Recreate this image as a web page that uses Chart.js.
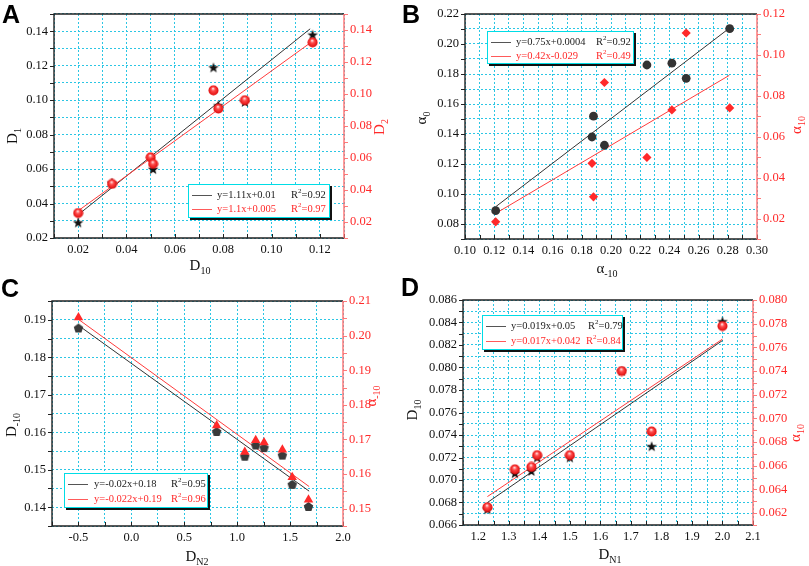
<!DOCTYPE html>
<html>
<head>
<meta charset="utf-8">
<script src="https://cdn.jsdelivr.net/npm/chart.js@4"></script>
<style>
body{margin:0;background:#fff;width:809px;height:566px;position:relative;overflow:hidden}
.panel{position:absolute}
.tag{position:absolute;font:bold 25px "Liberation Sans",Arial,sans-serif;line-height:1;color:#000}
.leg{position:absolute;background:#fff;border:1.5px solid #00dde6;box-shadow:2px 2px 0 #111;font:10.5px "Liberation Serif",serif;box-sizing:border-box}
.leg .row{position:absolute;left:0;right:0;height:14px;line-height:14px;white-space:nowrap}
.leg .ln{position:absolute;left:3px;width:20px;top:7px;border-top:1px solid}
.leg span{position:absolute;top:0}
.leg sup{font-size:7px;vertical-align:top;line-height:7px}
</style>
</head>
<body>
<div class="panel" style="left:0;top:0"><canvas id="cA" width="400" height="283"></canvas></div>
<div class="panel" style="left:400px;top:0"><canvas id="cB" width="409" height="283"></canvas></div>
<div class="panel" style="left:0;top:283px"><canvas id="cC" width="400" height="283"></canvas></div>
<div class="panel" style="left:400px;top:283px"><canvas id="cD" width="409" height="283"></canvas></div>

<div class="tag" style="left:2px;top:2px">A</div>
<div class="tag" style="left:402px;top:2px">B</div>
<div class="tag" style="left:1px;top:276px">C</div>
<div class="tag" style="left:401px;top:275px">D</div>

<div class="leg" style="left:188px;top:184px;width:142px;height:34px">
  <div class="row" style="top:3px;color:#222"><div class="ln" style="border-color:#555"></div><span style="left:28px">y=1.11x+0.01</span><span style="left:102px">R<sup>2</sup>=0.92</span></div>
  <div class="row" style="top:17px;color:#ff2a2a"><div class="ln" style="border-color:#ff5a5a"></div><span style="left:28px">y=1.1x+0.005</span><span style="left:102px">R<sup>2</sup>=0.97</span></div>
</div>
<div class="leg" style="left:487px;top:31px;width:147px;height:33px">
  <div class="row" style="top:3px;color:#222"><div class="ln" style="border-color:#555"></div><span style="left:28px">y=0.75x+0.0004</span><span style="left:108px">R<sup>2</sup>=0.92</span></div>
  <div class="row" style="top:17px;color:#ff2a2a"><div class="ln" style="border-color:#ff5a5a"></div><span style="left:28px">y=0.42x-0.029</span><span style="left:108px">R<sup>2</sup>=0.49</span></div>
</div>
<div class="leg" style="left:64px;top:473px;width:144px;height:35px">
  <div class="row" style="top:3px;color:#222"><div class="ln" style="border-color:#555"></div><span style="left:29px">y=-0.02x+0.18</span><span style="left:106px">R<sup>2</sup>=0.95</span></div>
  <div class="row" style="top:18px;color:#ff2a2a"><div class="ln" style="border-color:#ff5a5a"></div><span style="left:29px">y=-0.022x+0.19</span><span style="left:106px">R<sup>2</sup>=0.96</span></div>
</div>
<div class="leg" style="left:482px;top:315px;width:141px;height:35px">
  <div class="row" style="top:3px;color:#222"><div class="ln" style="border-color:#555"></div><span style="left:28px">y=0.019x+0.05</span><span style="left:105px">R<sup>2</sup>=0.79</span></div>
  <div class="row" style="top:18px;color:#ff2a2a"><div class="ln" style="border-color:#ff5a5a"></div><span style="left:28px">y=0.017x+0.042</span><span style="left:103px">R<sup>2</sup>=0.84</span></div>
</div>

<script>
// ---- panel A: D1 / D2 vs D10 ----
const aD10Black = [0.020, 0.034, 0.051, 0.076, 0.078, 0.089, 0.117];
const aD1 = [0.029, 0.052, 0.060, 0.119, 0.097, 0.099, 0.138];
const aD10Red = [0.020, 0.034, 0.050, 0.051, 0.076, 0.078, 0.089, 0.117];
const aD2 = [0.0256, 0.0438, 0.0604, 0.0563, 0.1023, 0.0909, 0.0961, 0.1323];
const aFitX1 = [0.020, 0.116], aFitY1 = [0.0335, 0.1414];
const aFitX2 = [0.020, 0.117], aFitY2 = [0.027, 0.133];
const aXTicks = [0.02, 0.04, 0.06, 0.08, 0.10, 0.12];
const aYTicks = [0.02, 0.04, 0.06, 0.08, 0.10, 0.12, 0.14];
const aY1Ticks = [0.02, 0.04, 0.06, 0.08, 0.10, 0.12, 0.14];

// ---- panel B: alpha0 / alpha10 vs alpha-10 ----
const bAm10 = [0.121, 0.187, 0.188, 0.1955, 0.2246, 0.2417, 0.2515, 0.2813];
const bA0 = [0.0889, 0.138, 0.1519, 0.1325, 0.186, 0.1872, 0.1771, 0.2102];
const bA10 = [0.0184, 0.047, 0.0306, 0.0865, 0.0499, 0.0731, 0.1107, 0.0741];
const bFitX = [0.121, 0.281], bFitY1 = [0.0915, 0.2105], bFitY2 = [0.0225, 0.090];
const bXTicks = [0.10, 0.12, 0.14, 0.16, 0.18, 0.20, 0.22, 0.24, 0.26, 0.28, 0.30];
const bYTicks = [0.08, 0.10, 0.12, 0.14, 0.16, 0.18, 0.20, 0.22];
const bY1Ticks = [0.02, 0.04, 0.06, 0.08, 0.10, 0.12];

// ---- panel C: D-10 / alpha-10 vs DN2 ----
const cDN2 = [-0.5, 0.806, 1.072, 1.175, 1.254, 1.427, 1.52, 1.674];
const cDm10 = [0.1878, 0.1602, 0.1536, 0.1566, 0.1559, 0.1539, 0.1461, 0.1402];
const cAm10 = [0.2052, 0.174, 0.1664, 0.1698, 0.1691, 0.167, 0.1591, 0.1526];
const cFitX = [-0.5, 1.68], cFitY1 = [0.1885, 0.1443], cFitY2 = [0.2047, 0.1564];
const cXTicks = [-0.5, 0.0, 0.5, 1.0, 1.5, 2.0];
const cYTicks = [0.14, 0.15, 0.16, 0.17, 0.18, 0.19];
const cY1Ticks = [0.15, 0.16, 0.17, 0.18, 0.19, 0.20, 0.21];

// ---- panel D: D10 / alpha10 vs DN1 ----
const dDN1 = [1.23, 1.32, 1.374, 1.393, 1.50, 1.67, 1.768, 2.0];
const dD10 = [0.0674, 0.0706, 0.0708, 0.0720, 0.0720, 0.0797, 0.0730, 0.0841];
const dA10 = [0.0625, 0.0657, 0.0659, 0.0669, 0.0669, 0.0740, 0.0689, 0.0778];
const dFitX = [1.23, 2.0], dFitY1 = [0.068, 0.0824], dFitY2 = [0.0634, 0.0767];
const dXTicks = [1.2, 1.3, 1.4, 1.5, 1.6, 1.7, 1.8, 1.9, 2.0, 2.1];
const dYTicks = [0.066, 0.068, 0.070, 0.072, 0.074, 0.076, 0.078, 0.080, 0.082, 0.084, 0.086];
const dY1Ticks = [0.062, 0.064, 0.066, 0.068, 0.070, 0.072, 0.074, 0.076, 0.078, 0.080];

const RED = '#ff2a2a';
const GRID = '#2cc6e4';
const SERIF = '"Liberation Serif", "Times New Roman", serif';

function pts(xs, ys) { return xs.map((x, i) => ({ x: x, y: ys[i] })); }

// marker sprites
function sprite(size, draw) {
  const c = document.createElement('canvas');
  c.width = size; c.height = size;
  draw(c.getContext('2d'), size / 2);
  return c;
}
const starImg = sprite(12, (g, m) => {
  g.beginPath();
  for (let i = 0; i < 10; i++) {
    const r = i % 2 ? 2.3 : 5.6, a = -Math.PI / 2 + i * Math.PI / 5;
    g.lineTo(m + r * Math.cos(a), m + 0.5 + r * Math.sin(a));
  }
  g.closePath(); g.fillStyle = '#111'; g.fill();
});
const ballImg = sprite(11, (g, m) => {
  const grd = g.createRadialGradient(m - 0.5, m - 2, 0.3, m, m, 5);
  grd.addColorStop(0, '#ffe8e8');
  grd.addColorStop(0.35, '#ff4d4d');
  grd.addColorStop(1, '#e00808');
  g.beginPath(); g.arc(m, m, 5, 0, Math.PI * 2); g.fillStyle = grd; g.fill();
});
const pentImg = sprite(11, (g, m) => {
  g.beginPath();
  for (let i = 0; i < 5; i++) {
    const a = -Math.PI / 2 + i * 2 * Math.PI / 5;
    g.lineTo(m + 5 * Math.cos(a), m + 0.5 + 5 * Math.sin(a));
  }
  g.closePath(); g.fillStyle = '#3a3a3a'; g.fill();
});

// grid positions: labelled ticks plus the half steps between them
function gridVals(min, max, labels) {
  const out = [];
  const h = (labels[1] - labels[0]) / 2;
  if (labels[0] - h >= min - 1e-9) out.push(labels[0] - h);
  labels.forEach((v, i) => {
    out.push(v);
    const nx = i < labels.length - 1 ? (v + labels[i + 1]) / 2 : v + h;
    if (nx <= max + 1e-9) out.push(nx);
  });
  return out;
}

function axis(pos, min, max, labels, dec, size, color, showGrid) {
  const horiz = pos === 'bottom';
  return {
    type: 'linear', position: pos, min: min, max: max,
    afterBuildTicks: s => { s.ticks = gridVals(min, max, labels).map(v => ({ value: v })); },
    afterFit: s => { if (horiz) s.height = size; else s.width = size; },
    ticks: {
      autoSkip: false, maxRotation: 0, padding: horiz ? 4 : 6, color: color,
      font: { family: SERIF, size: 12.5 },
      callback: v => labels.some(l => Math.abs(l - v) < 1e-9) ? v.toFixed(dec) : ''
    },
    grid: { display: showGrid, color: GRID, lineWidth: 1, drawTicks: false },
    border: { display: false, dash: [2, 2] }
  };
}

function subText(g, t) {
  g.save();
  g.translate(t.x, t.y);
  if (t.rot) g.rotate(-Math.PI / 2);
  g.fillStyle = t.color || '#111';
  g.textBaseline = 'middle';
  g.font = '15px ' + SERIF;
  const wb = g.measureText(t.base).width;
  g.font = '10px ' + SERIF;
  const ws = g.measureText(t.sub).width;
  const x0 = -(wb + ws) / 2;
  g.font = '15px ' + SERIF;
  g.fillText(t.base, x0, 0);
  g.font = '10px ' + SERIF;
  g.fillText(t.sub, x0 + wb, 5);
  g.restore();
}

function decor(titles) {
  return {
    id: 'decor',
    afterDraw(chart) {
      const g = chart.ctx, a = chart.chartArea, sc = chart.scales;
      g.save();
      g.lineWidth = 1;
      g.strokeStyle = '#222';
      // bottom ticks point inward, side ticks point outward
      sc.x.ticks.forEach(t => {
        const p = Math.round(sc.x.getPixelForValue(t.value)) + 0.5;
        g.beginPath(); g.moveTo(p, a.bottom); g.lineTo(p, a.bottom - 4); g.stroke();
      });
      sc.y.ticks.forEach(t => {
        const p = Math.round(sc.y.getPixelForValue(t.value)) + 0.5;
        g.beginPath(); g.moveTo(a.left, p); g.lineTo(a.left - 4, p); g.stroke();
      });
      g.strokeStyle = '#ff7a7a';
      sc.y1.ticks.forEach(t => {
        const p = Math.round(sc.y1.getPixelForValue(t.value)) + 0.5;
        g.beginPath(); g.moveTo(a.right, p); g.lineTo(a.right + 4, p); g.stroke();
      });
      g.lineWidth = 1.4;
      g.strokeStyle = '#222';
      g.beginPath();
      g.moveTo(a.right, a.top); g.lineTo(a.left, a.top); g.lineTo(a.left, a.bottom); g.lineTo(a.right, a.bottom);
      g.stroke();
      g.strokeStyle = '#ff7070';
      g.beginPath(); g.moveTo(a.right, a.top); g.lineTo(a.right, a.bottom); g.stroke();
      g.restore();
      titles.forEach(t => subText(g, t));
    }
  };
}

function panel(id, cfg) {
  new Chart(document.getElementById(id), {
    type: 'scatter',
    data: {
      datasets: [
        { data: cfg.redPts, yAxisID: 'y1', order: 0, pointStyle: cfg.redStyle, pointRadius: cfg.redR,
          backgroundColor: RED, borderColor: RED, borderWidth: 0 },
        { data: cfg.blackPts, yAxisID: 'y', order: 1, pointStyle: cfg.blackStyle, pointRadius: cfg.blackR,
          backgroundColor: '#333', borderColor: '#333', borderWidth: 0 },
        { data: cfg.redFit, yAxisID: 'y1', order: 2, showLine: true, pointRadius: 0,
          borderColor: '#ff3b3b', borderWidth: 1, fill: false },
        { data: cfg.blackFit, yAxisID: 'y', order: 3, showLine: true, pointRadius: 0,
          borderColor: '#333', borderWidth: 1, fill: false }
      ]
    },
    options: {
      responsive: false, animation: false, events: [],
      layout: { padding: { top: cfg.top, left: 0, right: 0, bottom: 0 } },
      plugins: { legend: { display: false }, tooltip: { enabled: false } },
      scales: { x: cfg.x, y: cfg.y, y1: cfg.y1 }
    },
    plugins: [decor(cfg.titles)]
  });
}

panel('cA', {
  top: 14,
  blackPts: pts(aD10Black, aD1), redPts: pts(aD10Red, aD2),
  blackFit: pts(aFitX1, aFitY1), redFit: pts(aFitX2, aFitY2),
  blackStyle: starImg, blackR: 5, redStyle: ballImg, redR: 5,
  x: axis('bottom', 0.01, 0.13, aXTicks, 2, 45, '#111', true),
  y: axis('left', 0.02, 0.15, aYTicks, 2, 54, '#111', true),
  y1: axis('right', 0.01, 0.15, aY1Ticks, 2, 56, RED, false),
  titles: [
    { x: 13, y: 136, base: 'D', sub: '1', rot: true },
    { x: 380, y: 127, base: 'D', sub: '2', rot: true, color: RED },
    { x: 200, y: 266, base: 'D', sub: '10' }
  ]
});

panel('cB', {
  top: 14,
  blackPts: pts(bAm10, bA0), redPts: pts(bAm10, bA10),
  blackFit: pts(bFitX, bFitY1), redFit: pts(bFitX, bFitY2),
  blackStyle: 'circle', blackR: 4.4, redStyle: 'rectRot', redR: 4.6,
  x: axis('bottom', 0.10, 0.30, bXTicks, 2, 44, '#111', true),
  y: axis('left', 0.07, 0.22, bYTicks, 2, 65, '#111', true),
  y1: axis('right', 0.01, 0.12, bY1Ticks, 2, 52, RED, false),
  titles: [
    { x: 22, y: 118, base: '\u03b1', sub: '0', rot: true },
    { x: 397, y: 125, base: '\u03b1', sub: '10', rot: true, color: RED },
    { x: 207, y: 269, base: '\u03b1', sub: '-10' }
  ]
});

panel('cC', {
  top: 18,
  blackPts: pts(cDN2, cDm10), redPts: pts(cDN2, cAm10),
  blackFit: pts(cFitX, cFitY1), redFit: pts(cFitX, cFitY2),
  blackStyle: pentImg, blackR: 5, redStyle: 'triangle', redR: 5.5,
  x: axis('bottom', -0.75, 2.0, cXTicks, 1, 40, '#111', true),
  y: axis('left', 0.135, 0.195, cYTicks, 2, 52, '#111', true),
  y1: axis('right', 0.145, 0.21, cY1Ticks, 2, 57, RED, false),
  titles: [
    { x: 12, y: 142, base: 'D', sub: '-10', rot: true },
    { x: 372, y: 113, base: '\u03b1', sub: '-10', rot: true, color: RED },
    { x: 197, y: 274, base: 'D', sub: 'N2' }
  ]
});

panel('cD', {
  top: 17,
  blackPts: pts(dDN1, dD10), redPts: pts(dDN1, dA10),
  blackFit: pts(dFitX, dFitY1), redFit: pts(dFitX, dFitY2),
  blackStyle: starImg, blackR: 5, redStyle: ballImg, redR: 5,
  x: axis('bottom', 1.15, 2.1, dXTicks, 1, 41, '#111', true),
  y: axis('left', 0.066, 0.086, dYTicks, 3, 63, '#111', true),
  y1: axis('right', 0.061, 0.080, dY1Ticks, 3, 56, RED, false),
  titles: [
    { x: 13, y: 127, base: 'D', sub: '10', rot: true },
    { x: 396, y: 150, base: '\u03b1', sub: '10', rot: true, color: RED },
    { x: 210, y: 272, base: 'D', sub: 'N1' }
  ]
});
</script>
</body>
</html>
